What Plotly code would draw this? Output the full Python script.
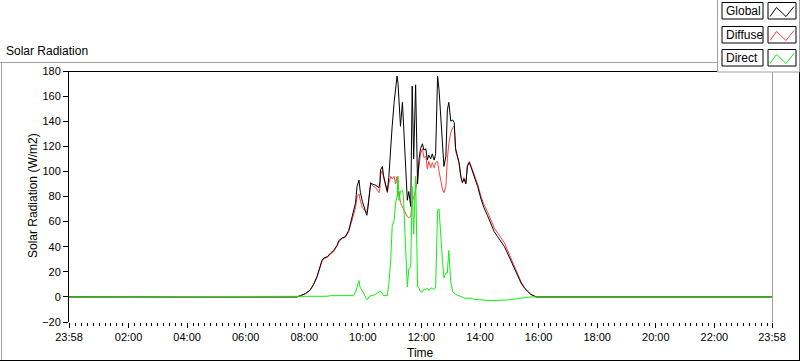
import plotly.graph_objects as go

# ---- data (minutes since midnight) ----
minutes = [-2, 465, 472, 482, 492, 499, 506, 513, 516, 520, 527, 534, 540, 547, 551, 558, 564, 571, 575, 579,
           581, 585, 588, 592, 594, 595, 599, 602, 605, 608, 610, 612, 616, 619, 626, 633, 635, 636, 640, 642,
           647, 650, 653, 657, 660, 664, 667, 670, 672, 674, 677, 681, 683, 688, 691, 694, 698, 701, 704, 708,
           712, 715, 718, 722, 725, 729, 732, 735, 739, 742, 746, 749, 753, 756, 759, 763, 766, 770, 773, 776,
           780, 784, 787, 790, 794, 797, 801, 804, 807, 811, 814, 818, 821, 828, 835, 842, 848, 855, 862, 869,
           876, 883, 890, 896, 903, 910, 917, 924, 931, 938, 944, 955, 1438]

global_rad = [0, 0, 1, 2.5, 5.4, 10, 16, 24, 29, 31, 32, 35, 37, 41, 45, 47, 48, 53, 59, 64,
              67, 75, 88, 93, 86, 83, 76, 72, 68, 65, 70, 77, 91, 90, 89, 87, 92, 101, 104, 97,
              88, 84, 95, 123, 136, 155, 165, 176, 170, 155, 136, 155, 140, 110, 77, 84, 72, 168, 110, 169,
              90, 110, 118, 122, 117, 118, 109, 113, 110, 114, 109, 114, 176, 165, 148, 124, 104, 112, 149, 155,
              140, 141, 139, 118, 112, 107, 95, 91, 94, 90, 104, 107, 104, 96, 88, 78, 71, 65, 58, 52,
              48, 44, 40, 35, 29, 23, 17, 11, 7, 4, 2, 0, 0]

diffuse_rad = [0, 0, 1, 2.5, 5.4, 10, 16, 24, 28, 30.5, 31.5, 34, 36, 40.5, 44, 46.5, 47.5, 52, 58, 63,
               66, 71, 80, 82, 78, 76, 71, 70, 68, 67, 72, 77, 90, 89, 87, 83, 87, 97, 101, 96,
               87, 83, 90, 96, 94, 96, 90, 96, 80, 84, 75, 72, 70, 66, 64, 63, 64, 75, 80, 85,
               95, 103, 114, 118, 111, 112, 102, 108, 103, 107, 103, 107, 108, 100, 93, 86, 83, 88, 110, 122,
               131, 135, 136, 116, 111, 106, 95, 91, 95, 91, 105, 108, 105, 98, 90, 80, 73.5, 68, 61, 55,
               51, 47, 43, 37.5, 31, 25, 18.5, 12, 7.5, 4, 2, 0, 0]

direct_rad = [0, 0, 0, 0, 0, 0, 0, 0, 0.5, 0.5, 0.5, 1, 1, 0.5, 1, 0.5, 0.5, 1, 1, 1,
              1, 4, 8, 13, 8, 7, 5, 2, 0, -2, -2, 0, 1, 1, 2, 4, 5, 4, 3, 1,
              1, 1, 10, 29, 56, 61, 75, 80, 96, 77, 84, 85, 80, 25, 8, 22, 24, 88, 50, 96,
              8, 7, 4, 4, 6, 6, 7, 5, 7, 7, 6, 7, 69, 70, 50, 29, 15, 19, 19, 37,
              12, 4, 3, 2, 1, 1, 0, 0, -1, -1, -1, -1, -1, -2, -2, -2.5, -2.5, -3, -3, -3,
              -3, -3, -3, -2.5, -2, -2, -1.5, -1, -0.5, 0, 0, 0, 0]

tick_vals = [-2, 120, 240, 360, 480, 600, 720, 840, 960, 1080, 1200, 1320, 1438]
tick_text = ["23:58", "02:00", "04:00", "06:00", "08:00", "10:00", "12:00", "14:00",
             "16:00", "18:00", "20:00", "22:00", "23:58"]
y_ticks = [-20, 0, 20, 40, 60, 80, 100, 120, 140, 160, 180]

series_names = ["Global", "Diffuse", "Direct"]
series_colors = ["#000000", "#ff4040", "#10f010"]

# ---- layout geometry (pixels) ----
W, H = 800, 361
L, R, T, B = 69, 772, 71, 322


def px(X):
    return (X - L) / (R - L)


def py(Y):
    return (B - Y) / (B - T)


FONT = "Liberation Sans"

fig = go.Figure()
fig.add_trace(go.Scatter(x=minutes, y=diffuse_rad, mode="lines", name="Diffuse",
                         line=dict(color=series_colors[1], width=1)))
fig.add_trace(go.Scatter(x=minutes, y=global_rad, mode="lines", name="Global",
                         line=dict(color=series_colors[0], width=1)))
fig.add_trace(go.Scatter(x=minutes, y=direct_rad, mode="lines", name="Direct",
                         line=dict(color=series_colors[2], width=1)))

shapes = []


def hline(y, x0, x1, color):
    shapes.append(dict(type="line", xref="paper", yref="paper", x0=px(x0), x1=px(x1),
                       y0=py(y), y1=py(y), line=dict(color=color, width=1), layer="above"))


def vline(x, y0, y1, color):
    shapes.append(dict(type="line", xref="paper", yref="paper", x0=px(x), x1=px(x),
                       y0=py(y0), y1=py(y1), line=dict(color=color, width=1), layer="above"))


GRAY = "#a0a0a0"
hline(62.5, 0, 717, GRAY)          # outer top
vline(1.5, 62, 361, GRAY)          # outer left
hline(360.5, 0, 800, "#000000")    # outer bottom
vline(799.5, 72, 361, "#000000")   # outer right
hline(71.5, 69, 772, "#000000")    # plot top
vline(772.5, 71, 322, GRAY)        # plot right

# legend panel
shapes.append(dict(type="rect", xref="paper", yref="paper", x0=px(717.5), x1=px(799.5),
                   y0=py(72), y1=py(-2), fillcolor="white", line=dict(color=GRAY, width=1),
                   layer="above"))

annotations = []
box_tops = [2.5, 26.5, 49.5]
for name, color, top in zip(series_names, series_colors, box_tops):
    bot = top + 16.5
    shapes.append(dict(type="rect", xref="paper", yref="paper", x0=px(722), x1=px(763),
                       y0=py(bot), y1=py(top), fillcolor="white",
                       line=dict(color="#000000", width=1), layer="above"))
    shapes.append(dict(type="rect", xref="paper", yref="paper", x0=px(768), x1=px(796),
                       y0=py(bot), y1=py(top), fillcolor="white",
                       line=dict(color="#000000", width=1), layer="above"))
    pts = [(770, top + 14), (776.5, top + 5), (786, top + 14), (794, top + 4)]
    path = "M " + " L ".join(f"{px(a):.5f},{py(b):.5f}" for a, b in pts)
    shapes.append(dict(type="path", xref="paper", yref="paper", path=path,
                       line=dict(color=color, width=1), layer="above"))
    annotations.append(dict(text=name, xref="paper", yref="paper", x=px(724), y=py(top + 8.5),
                            xanchor="left", yanchor="middle", showarrow=False,
                            font=dict(family=FONT, size=12, color="#000")))

annotations.append(dict(text="Solar Radiation", xref="paper", yref="paper", x=px(4), y=py(51),
                        xanchor="left", yanchor="middle", showarrow=False,
                        font=dict(family=FONT, size=12, color="#000")))
annotations.append(dict(text="Solar Radiation (W/m2)", xref="paper", yref="paper", x=px(33),
                        y=py(196), xanchor="center", yanchor="middle", textangle=-90,
                        showarrow=False, font=dict(family=FONT, size=12, color="#000")))
annotations.append(dict(text="Time", xref="paper", yref="paper", x=px(420), y=py(353),
                        xanchor="center", yanchor="middle", showarrow=False,
                        font=dict(family=FONT, size=12, color="#000")))

fig.update_layout(
    width=W, height=H,
    margin=dict(l=L, r=W - R, t=T, b=H - B, pad=0),
    paper_bgcolor="white", plot_bgcolor="white",
    showlegend=False,
    shapes=shapes, annotations=annotations,
    xaxis=dict(range=[-2, 1438], tickmode="array", tickvals=tick_vals, ticktext=tick_text,
               ticks="outside", ticklen=5, tickwidth=1, tickcolor="#000", showgrid=False,
               zeroline=False, showline=False,
               tickfont=dict(family=FONT, size=11, color="#000"),
               minor=dict(ticks="outside", ticklen=3, tickwidth=1, tickcolor="#000",
                          dtick=12, tick0=0, showgrid=False)),
    yaxis=dict(range=[-20, 180], tickmode="array", tickvals=y_ticks, ticks="outside",
               ticklen=5, tickwidth=1, tickcolor="#000", showgrid=False, zeroline=False,
               showline=True, linecolor="#000", linewidth=1,
               tickfont=dict(family=FONT, size=11, color="#000")),
)

fig.write_html("out.html", config={"displayModeBar": False},
               post_script="document.body.style.margin='0px';document.body.style.overflow='hidden';")
